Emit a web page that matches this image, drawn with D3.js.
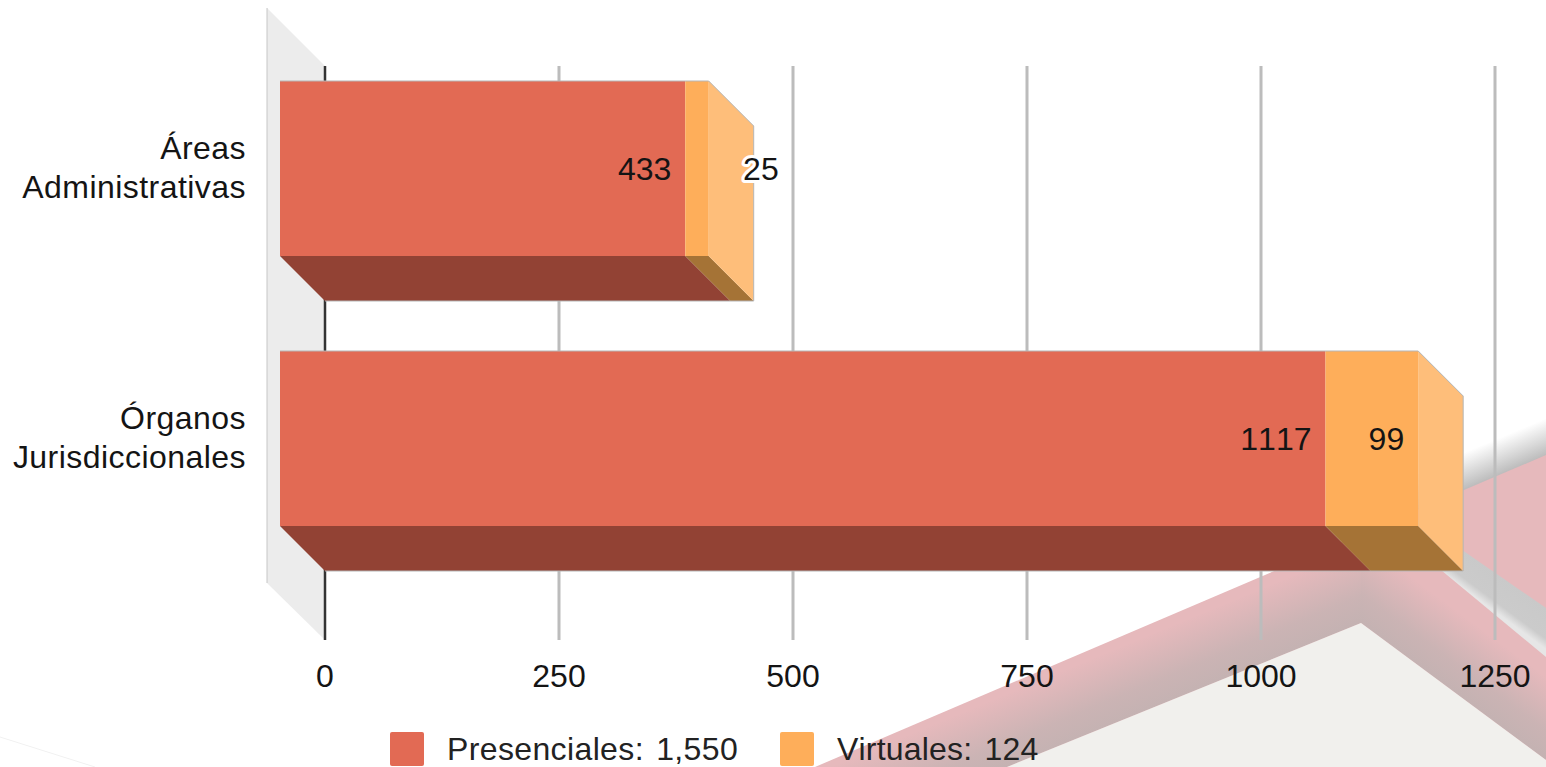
<!DOCTYPE html>
<html lang="es">
<head>
<meta charset="utf-8">
<title>Presenciales y Virtuales</title>
<script src="https://d3js.org/d3.v7.min.js"></script>
<style>
html,body{margin:0;padding:0;background:#fff;overflow:hidden}
svg{display:block}
text{font-family:"Liberation Sans",Arial,sans-serif;font-size:32px;fill:#141414;font-kerning:none}
</style>
</head>
<body>
<svg id="chart" width="1546" height="767"></svg>
<script>
const categories = [["Áreas","Administrativas"],["Órganos","Jurisdiccionales"]];
const presenciales = [433,1117];
const virtuales = [25,99];
const tickValues = [0,250,500,750,1000,1250];
const legendLabels = ["Presenciales: 1,550","Virtuales: 124"];
const seriesColors = ["#e26a54","#feae5a"];
const bottomColors = ["#924234","#a57336"];
const sideColor = "#febe7a";

const svg = d3.select("#chart");
const depth = 45;
const x = d3.scaleLinear().domain([0,1250]).range([325,1495]);
const y = d3.scaleBand().domain(d3.range(categories.length)).range([81,526]).paddingInner(95/270).paddingOuter(0);
const poly = p => p.map(q=>q.join(",")).join(" ");

/* page background decoration */
const bg = svg.append("g");
const defs = svg.append("defs");
function grad(id,x1,y1,x2,y2,stops){
  const g = defs.append("linearGradient").attr("id",id).attr("gradientUnits","userSpaceOnUse")
    .attr("x1",x1).attr("y1",y1).attr("x2",x2).attr("y2",y2);
  stops.forEach(s=>g.append("stop").attr("offset",s[0]).attr("stop-color",s[1]).attr("stop-opacity",s[2]));
}
grad("topShadow",1505,472,1492,441,[[0,"#bdbdbd",1],[1,"#bdbdbd",0]]);
grad("band",1490,566,1470,593,[[0,"#c9c9c9",1],[.75,"#cbcbcb",1],[1,"#e6e6e6",1]]);
grad("leftShade",1187,695,1160,630,[[0,"#c4b2b2",1],[.35,"#c4b2b2",.8],[1,"#c4b2b2",0]]);
grad("rightShade",1450,689,1490,635,[[0,"#c4b2b2",1],[.35,"#c4b2b2",.8],[1,"#c4b2b2",0]]);

bg.append("polyline").attr("points",poly([[0,737],[95,767]])).attr("fill","none").attr("stroke","#f1f1f1");
bg.append("polygon").attr("points",poly([[1380,527],[1546,456],[1546,400],[1380,471]])).attr("fill","url(#topShadow)");
bg.append("polygon").attr("points",poly([[815,767],[1546,455],[1546,767]])).attr("fill","#e6b9bc");
bg.append("polygon").attr("points",poly([[1400,507],[1546,608],[1546,657],[1400,536]])).attr("fill","url(#band)");
bg.append("polygon").attr("points",poly([[1007,767],[1361,623],[1361,548],[830,767]])).attr("fill","url(#leftShade)");
bg.append("polygon").attr("points",poly([[1361,623],[1361,540],[1546,677],[1546,760]])).attr("fill","url(#rightShade)");
bg.append("polygon").attr("points",poly([[1007,767],[1361,623],[1546,760],[1546,767]])).attr("fill","#f1f0ed");

/* back wall */
svg.append("polygon").attr("points",poly([[267,8],[325,66],[325,640],[267,583]])).attr("fill","#ececec");
svg.append("line").attr("x1",267).attr("x2",267).attr("y1",8).attr("y2",583).attr("stroke","#c6c6c6").attr("stroke-width",1);

/* axis with gridlines */
const axis = svg.append("g").attr("transform","translate(-0.5,640)")
  .call(d3.axisBottom(x).tickValues(tickValues).tickFormat(d3.format("d")).tickSize(-574).tickPadding(24));
axis.select(".domain").remove();
axis.selectAll("line").attr("stroke",d=>d===0?"#333":"#bcbcbc").attr("stroke-width",d=>d===0?2.5:3);
axis.selectAll("text").style("font-size","32px").style("fill","#141414");
axis.attr("font-family",null).attr("font-size",null);

/* 3D stacked bars */
const gBars = svg.append("g");
categories.forEach((c,i)=>{
  const top = y(i), h = y.bandwidth(), bot = top+h;
  const fx = v => x(v)-depth;
  const a = fx(0), b = fx(presenciales[i]), e = fx(presenciales[i]+virtuales[i]);
  const segs = [[a,b],[b,e]];
  segs.forEach((s,k)=>{
    gBars.append("polygon").attr("points",poly([[s[0],bot],[s[1],bot],[s[1]+depth,bot+depth],[s[0]+depth,bot+depth]])).attr("fill",bottomColors[k]);
  });
  gBars.append("polygon").attr("points",poly([[e,top],[e+depth,top+depth],[e+depth,bot+depth],[e,bot]])).attr("fill",sideColor);
  segs.forEach((s,k)=>{
    gBars.append("rect").attr("x",s[0]).attr("y",top).attr("width",s[1]-s[0]).attr("height",h).attr("fill",seriesColors[k]);
  });
  gBars.append("polyline").attr("fill","none").attr("stroke","#b5b5b5").attr("stroke-width",1)
    .attr("points",poly([[a,top],[e,top],[e+depth,top+depth],[e+depth,bot+depth],[a+depth,bot+depth]]));

  /* category labels */
  const t = svg.append("text").attr("text-anchor","end").style("letter-spacing","0.45px");
  c.forEach((line,j)=>t.append("tspan").attr("x",246).attr("y",top+78+j*39).text(line));

  /* data labels */
  svg.append("text").attr("text-anchor","end").attr("x",b-14).attr("y",top+99).text(presenciales[i]);
  const narrow = e-b<60;
  const vt = svg.append("text").attr("text-anchor","end").attr("x",narrow?e+70:e-14).attr("y",top+99).text(virtuales[i]);
  if(narrow) vt.attr("stroke","#fff").attr("stroke-width",6).attr("stroke-linejoin","round").attr("paint-order","stroke");
});

/* legend */
const lx = [390,780], tx = [447,837], ls = [0.37,0.2];
legendLabels.forEach((l,i)=>{
  svg.append("rect").attr("x",lx[i]).attr("y",732).attr("width",34).attr("height",34).attr("rx",2).attr("fill",seriesColors[i]);
  svg.append("text").attr("x",tx[i]).attr("y",760).style("fill","#222").style("word-spacing","3px").style("letter-spacing",ls[i]+"px").text(l);
});
</script>
</body>
</html>
